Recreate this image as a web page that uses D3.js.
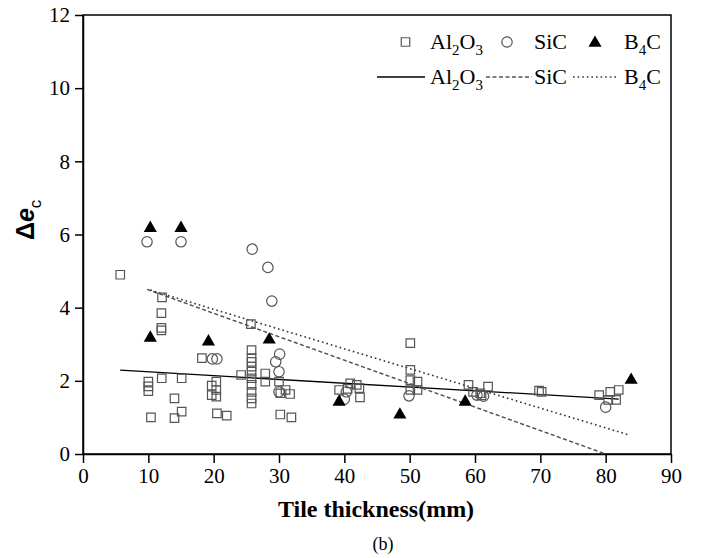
<!DOCTYPE html>
<html><head><meta charset="utf-8">
<script src="https://cdn.jsdelivr.net/npm/d3@7"></script>
<style>body{margin:0;background:#fff}</style>
</head><body>
<svg id="c" width="701" height="558"></svg>
<script>
const xTicks = [0,10,20,30,40,50,60,70,80,90];
const yTicks = [0,2,4,6,8,10,12];
const al2o3X = [5.7,12.1,12.0,12.0,12.0,10,10,10,10.4,12.05,15.1,14.0,15.1,14.0,18.2,19.7,20.4,19.7,20.4,20.4,20.5,22.0,24.2,25.7,25.8,25.8,25.8,25.8,25.8,25.8,25.8,25.8,25.8,25.8,27.9,27.9,30,30.2,31,31.7,30.2,31.9,39.2,40.9,41.9,42.3,42.4,40.5,50.1,50.1,50.1,51.2,50.1,51.2,59,62,59.7,60.8,61,69.8,70.2,79.0,80.7,82.0,81.6,80.4];
const al2o3Y = [4.9,4.28,3.85,3.45,3.38,1.98,1.85,1.72,1.0,2.07,2.07,1.52,1.16,0.98,2.62,1.87,1.98,1.61,1.57,1.75,1.11,1.05,2.16,3.55,2.84,2.62,2.52,2.39,2.25,2.07,1.89,1.70,1.52,1.38,2.2,1.98,1.98,1.66,1.75,1.64,1.08,1.0,1.75,1.93,1.89,1.8,1.55,1.78,3.03,2.3,2.02,1.98,1.75,1.75,1.89,1.84,1.70,1.66,1.6,1.73,1.7,1.61,1.7,1.75,1.48,1.48];
const sicX = [9.8,15,25.9,28.3,28.9,19.8,20.5,30.1,29.5,30,30,40.3,40,49.9,60.3,61.3,80];
const sicY = [5.8,5.8,5.6,5.1,4.18,2.6,2.6,2.73,2.52,2.25,1.7,1.7,1.5,1.59,1.61,1.58,1.28];
const b4cX = [10.3,15,10.3,19.2,28.5,39.2,48.5,58.5,83.9];
const b4cY = [6.2,6.2,3.2,3.1,3.15,1.45,1.1,1.45,2.05];
const fitAlX = [5.7,82], fitAlY = [2.29,1.50];
const fitSiCX = [9.8,80], fitSiCY = [4.5,0];
const fitB4CX = [10.3,83.6], fitB4CY = [4.48,0.52];

const svg = d3.select("#c");
const L=83, R=671, T=15, B=454;
const x = d3.scaleLinear().domain([0,90]).range([L,R]);
const y = d3.scaleLinear().domain([0,12]).range([B,T]);
const serif = "'Liberation Serif','Times New Roman',serif";

svg.append("rect").attr("x",L).attr("y",T).attr("width",R-L).attr("height",B-T)
  .attr("fill","none").attr("stroke","#000").attr("stroke-width",1.5);

const gx = svg.append("g").attr("transform",`translate(0,${B})`)
  .call(d3.axisBottom(x).tickValues(xTicks).tickSize(9).tickSizeOuter(0).tickPadding(5));
const gy = svg.append("g").attr("transform",`translate(${L},0)`)
  .call(d3.axisLeft(y).tickValues(yTicks).tickSize(8).tickSizeOuter(0).tickPadding(5));
[gx,gy].forEach(g=>{
  g.attr("font-family",serif).attr("font-size",21);
  g.selectAll("path,line").attr("stroke","#000").attr("stroke-width",1.5);
  g.selectAll("text").attr("font-family",serif).attr("font-size",21).attr("fill","#000");
});

const line = d3.line().x(d=>x(d[0])).y(d=>y(d[1]));
svg.append("path").datum(d3.zip(fitAlX,fitAlY)).attr("d",line).attr("fill","none").attr("stroke","#000").attr("stroke-width",1.3);
svg.append("path").datum(d3.zip(fitSiCX,fitSiCY)).attr("d",line).attr("fill","none").attr("stroke","#555").attr("stroke-width",1.5).attr("stroke-dasharray","4,2.5");
svg.append("path").datum(d3.zip(fitB4CX,fitB4CY)).attr("d",line).attr("fill","none").attr("stroke","#333").attr("stroke-width",1.6).attr("stroke-dasharray","1.6,3");

const sq = d3.symbol().type(d3.symbolSquare).size(72);
const ci = d3.symbol().type(d3.symbolCircle).size(85);
const tr = d3.symbol().type(d3.symbolTriangle).size(75);
svg.append("g").selectAll("path").data(d3.zip(al2o3X,al2o3Y)).join("path")
  .attr("d",sq).attr("transform",d=>`translate(${x(d[0])},${y(d[1])})`)
  .attr("fill","none").attr("stroke","#555").attr("stroke-width",1.2);
svg.append("g").selectAll("path").data(d3.zip(sicX,sicY)).join("path")
  .attr("d",ci).attr("transform",d=>`translate(${x(d[0])},${y(d[1])})`)
  .attr("fill","none").attr("stroke","#555").attr("stroke-width",1.2);
svg.append("g").selectAll("path").data(d3.zip(b4cX,b4cY)).join("path")
  .attr("d",tr).attr("transform",d=>`translate(${x(d[0])},${y(d[1])+1})`)
  .attr("fill","#000");

function label(g, xx, yy, parts){
  const t = g.append("text").attr("x",xx).attr("y",yy).attr("font-family",serif).attr("font-size",22).attr("fill","#000");
  parts.forEach(p=>{
    if(p.sub){ t.append("tspan").attr("font-size",15).attr("dy",6).text(p.t); }
    else { t.append("tspan").attr("dy",p.after?-6:0).text(p.t); }
  });
}
const lg = svg.append("g");
lg.append("path").attr("d",sq).attr("transform","translate(405.5,42)").attr("fill","none").attr("stroke","#555").attr("stroke-width",1.2);
lg.append("path").attr("d",ci).attr("transform","translate(507,42)").attr("fill","none").attr("stroke","#555").attr("stroke-width",1.2);
lg.append("path").attr("d",tr).attr("transform","translate(595,43)").attr("fill","#000");
const alParts=[{t:"Al"},{t:"2",sub:1},{t:"O",after:1},{t:"3",sub:1}];
const b4Parts=[{t:"B"},{t:"4",sub:1},{t:"C",after:1}];
label(lg,430,49,alParts); label(lg,534,49,[{t:"SiC"}]); label(lg,624,49,b4Parts);
label(lg,430,84,alParts); label(lg,534,84,[{t:"SiC"}]); label(lg,624,84,b4Parts);
lg.append("line").attr("x1",377).attr("x2",425).attr("y1",77).attr("y2",77).attr("stroke","#000").attr("stroke-width",1.3);
lg.append("line").attr("x1",486).attr("x2",532).attr("y1",77).attr("y2",77).attr("stroke","#555").attr("stroke-width",1.5).attr("stroke-dasharray","4,2.5");
lg.append("line").attr("x1",573).attr("x2",618).attr("y1",77).attr("y2",77).attr("stroke","#333").attr("stroke-width",1.6).attr("stroke-dasharray","1.6,3");

svg.append("text").attr("x",(L+R)/2 - 1).attr("y",517).attr("text-anchor","middle")
  .attr("font-family",serif).attr("font-weight","bold").attr("font-size",24).text("Tile thickness(mm)");
const yl = svg.append("text").attr("transform","translate(34,240) rotate(-90)")
  .attr("font-family","'Liberation Sans',Arial,sans-serif").attr("font-size",25).attr("font-weight","bold").attr("fill","#000");
yl.append("tspan").text("Δ");
yl.append("tspan").attr("font-style","italic").text("e");
yl.append("tspan").attr("font-size",17).attr("dy",7).attr("font-weight","normal").text("c");
svg.append("text").attr("x",383).attr("y",550).attr("text-anchor","middle")
  .attr("font-family",serif).attr("font-size",18).text("(b)");
</script>
</body></html>
